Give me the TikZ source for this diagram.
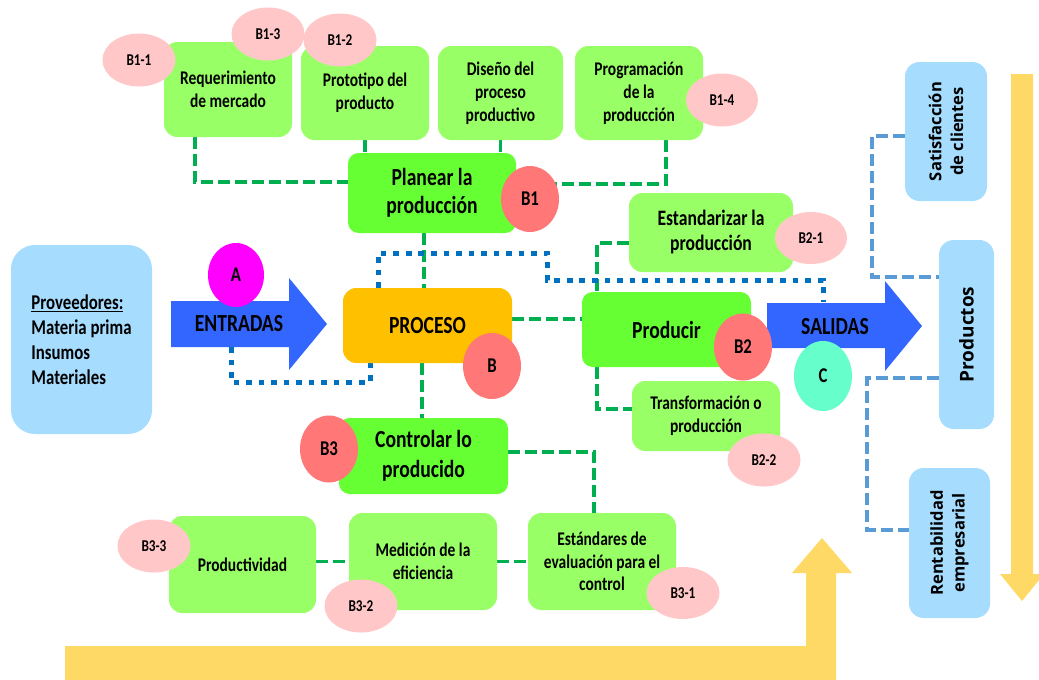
\documentclass[tikz,border=0pt]{standalone}
\usepackage{fontspec}
\usetikzlibrary{shapes.geometric,calc}
\newfontfamily\carl{Carlito}[FakeStretch=0.8]
\newfontfamily\opsans{Open Sans}
\newcommand\fs[2]{\fontsize{#1pt}{#2pt}\selectfont}

\definecolor{boxlight}{HTML}{99FF66}
\definecolor{boxbright}{HTML}{66FF33}
\definecolor{procorange}{HTML}{FFC000}
\definecolor{arrowblue}{HTML}{3366FF}
\definecolor{skyfill}{HTML}{A6DCFE}
\definecolor{pinkfill}{HTML}{FFC7C7}
\definecolor{salmonfill}{HTML}{FF7777}
\definecolor{magentafill}{HTML}{FF00FF}
\definecolor{mintfill}{HTML}{66FFCC}
\definecolor{yellowfill}{HTML}{FFD966}
\definecolor{greenline}{HTML}{00B050}
\definecolor{blueline}{HTML}{0070C0}
\definecolor{steelline}{HTML}{5B9BD5}

\pgfdeclarelayer{conn}
\pgfsetlayers{conn,main}

% box given by its corners: name, x1, y1, x2, y2, style, text
\newcommand\qbox[7]{\node[#6, minimum width={(#4-#2)*0.75pt}, minimum height={(#5-#3)*0.75pt}] (#1) at ({(#2+#4)/2},{(#3+#5)/2}) {#7};}
% ellipse given by centre and radii: name, cx, cy, rx, ry, style, text
\newcommand\qell[7]{\node[ellipse, #6, minimum width={2*#4*0.75pt}, minimum height={2*#5*0.75pt}] (#1) at (#2,#3) {#7};}

\tikzset{
  lgbox/.style={fill=boxlight, rounded corners=10pt},
  bgbox/.style={fill=boxbright, rounded corners=8pt},
  skybox/.style={fill=skyfill, rounded corners=11pt},
  toptxt/.style={font=\carl\bfseries\fs{14.5}{17.25}},
  bigtxt/.style={font=\carl\bfseries\fs{18.4}{21}},
  tag/.style={fill=pinkfill, font=\carl\bfseries\fs{12.4}{14}},
  bigtag/.style={font=\carl\bfseries\fs{15.75}{18}},
  gdash/.style={greenline, line width=2.6pt, dash pattern=on 9pt off 3.75pt},
  bdot/.style={blueline, line width=3.75pt, dash pattern=on 4.2pt off 5.2pt},
  sdash/.style={steelline, line width=2.6pt, dash pattern=on 9pt off 3.75pt},
}

\begin{document}
\begin{tikzpicture}[x=0.75pt, y=-0.75pt,
  every node/.style={inner sep=0pt, align=center, text=black}]
\useasboundingbox (0,0) rectangle (1039,679);
\clip (0,0) rectangle (1039,679);

% large yellow arrows
\fill[yellowfill] (1011,74) -- (1033,74) -- (1033,574) -- (1044,574) -- (1022,601) -- (1000,574) -- (1011,574) -- cycle;
\fill[yellowfill] (65,646) -- (806,646) -- (806,573) -- (792,573) -- (822,538) -- (852,573) -- (836,573) -- (836,690) -- (65,690) -- cycle;

% input and output arrows
\fill[arrowblue] (171,301) -- (289,301) -- (289,278) -- (327,324) -- (289,370) -- (289,347) -- (171,347) -- cycle;
\node[bigtxt] (entr) at (239,324) {ENTRADAS};
\coordinate (entrB) at (231,347);
\fill[arrowblue] (767,303) -- (885,303) -- (885,281) -- (922,326) -- (885,371) -- (885,348) -- (767,348) -- cycle;
\node[bigtxt] (sal) at (835,327) {SALIDAS};
\coordinate (salT) at (823,302);

% suppliers
\node[skybox, rounded corners=18pt, minimum width={141*0.75pt}, minimum height={189*0.75pt},
      align=left, font=\carl\bfseries\fs{15.75}{18.75}] (prov) at (81.5,339.5)
      {\underline{Proveedores:}\\Materia prima\hspace*{4.5pt}\\Insumos\\Materiales};

% planning row
\qbox{req}{164}{42}{292}{137}{lgbox, toptxt}{Requerimiento\\de mercado}
\qbox{proto}{301}{46}{429}{140}{lgbox, toptxt}{Prototipo del\\producto}
\qbox{dis}{438}{46}{563}{140}{lgbox, toptxt}{Diseño del\\proceso\\productivo}
\qbox{prog}{575}{46}{703}{140}{lgbox, toptxt}{Programación\\de la\\producción}
\qbox{plan}{348}{153}{516}{233}{bgbox, bigtxt}{Planear la\\producción}

% process core
\qbox{proc}{343}{288}{512}{363}{fill=procorange, rounded corners=10pt, bigtxt}{PROCESO}
\qbox{ctrl}{339}{418}{508}{494}{bgbox, font=\carl\bfseries\fs{18.4}{22.5}}{Controlar lo\\producido}
\qbox{estd}{629}{193}{793}{272}{lgbox, font=\carl\bfseries\fs{16.5}{18.75}}{Estandarizar la\\producción}
\qbox{prod}{582}{292}{751}{367}{bgbox, bigtxt}{Producir}
\qbox{trans}{632}{381}{780}{451}{lgbox, font=\carl\bfseries\fs{14.5}{17}}{Transformación o\\producción}

% control row
\qbox{prodv}{169}{516}{316}{613}{lgbox, font=\carl\bfseries\fs{14.5}{17}}{Productividad}
\qbox{med}{349}{513}{497}{610}{lgbox, font=\carl\bfseries\fs{14.5}{17}}{Medición de la\\eficiencia}
\qbox{est}{528}{513}{676}{610}{lgbox, font=\carl\bfseries\fs{14.5}{17}}{Estándares de\\evaluación para el\\control}

% results column (text reads upwards)
\node[skybox, rotate=90, minimum width={139*0.75pt}, minimum height={82*0.75pt},
      font=\opsans\bfseries\fs{12.4}{16.3}] (sat) at (946,131.5) {Satisfacción\\de clientes};
\node[skybox, rotate=90, minimum width={189*0.75pt}, minimum height={55*0.75pt},
      font=\opsans\bfseries\fs{14.25}{16}] (prods) at (966.5,334.5) {Productos};
\node[skybox, rotate=90, minimum width={150*0.75pt}, minimum height={81*0.75pt},
      font=\opsans\bfseries\fs{12.4}{16.3}] (rent) at (949.5,543) {Rentabilidad\\empresarial};

% labels
\qell{b11}{139}{60}{36.5}{26.5}{tag}{B1-1}
\qell{b13}{268}{34}{36.5}{26.5}{tag}{B1-3}
\qell{b12}{340}{40}{36.5}{26.5}{tag}{B1-2}
\qell{b14}{722}{100}{36}{26.5}{tag}{B1-4}
\qell{b1}{530}{199}{29}{33}{bigtag, fill=salmonfill}{B1}
\qell{b21}{811}{238}{36}{26}{tag}{B2-1}
\qell{b2}{743}{347}{29}{33.5}{bigtag, fill=salmonfill}{B2}
\qell{b22}{764}{460}{36.5}{26.5}{tag}{B2-2}
\qell{cc}{823}{376}{29}{35}{bigtag, fill=mintfill}{C}
\qell{aa}{236}{275}{28}{32}{bigtag, fill=magentafill}{A}
\qell{bb}{492}{366}{29}{33}{bigtag, fill=salmonfill}{B}
\qell{b3}{329}{449}{29}{33.5}{bigtag, fill=salmonfill}{B3}
\qell{b33}{154}{546}{36.5}{26.5}{tag}{B3-3}
\qell{b32}{361}{606}{36.5}{26.5}{tag}{B3-2}
\qell{b31}{683}{593}{36.5}{26}{tag}{B3-1}

% connectors, kept underneath the shapes
\begin{pgfonlayer}{conn}
  % green dashed links
  \coordinate (rq1) at ($(req.south)+(-33,0)$);
  \coordinate (pw0) at ($(plan.west)+(0,-11)$);
  \draw[gdash] (rq1) |- (pw0);
  \draw[gdash] (proto.south) -- (proto.south |- plan.north);
  \draw[gdash] (dis.south) -- (dis.south |- plan.north);
  \coordinate (pg1) at ($(prog.south)+(27,0)$);
  \coordinate (b1e) at ($(b1.east)+(-5,-15)$);
  \draw[gdash] (pg1) |- (b1e);
  \coordinate (pl1) at ($(plan.south)+(-8,0)$);
  \draw[gdash] (pl1) -- (pl1 |- proc.north);
  \coordinate (pc1) at ($(proc.south)+(-5.5,0)$);
  \draw[gdash] (pc1) -- (pc1 |- ctrl.north);
  \coordinate (pr1) at ($(proc.east)+(0,-6.5)$);
  \draw[gdash] (pr1) -- (pr1 -| prod.west);
  \coordinate (es1) at ($(estd.west)+(0,10.5)$);
  \coordinate (pn1) at ($(prod.north)+(-69.5,0)$);
  \draw[gdash] (es1) -| (pn1);
  \coordinate (ps1) at ($(prod.south)+(-69.5,0)$);
  \coordinate (tw1) at ($(trans.west)+(0,-7)$);
  \draw[gdash] (ps1) |- (tw1);
  \coordinate (ce1) at ($(ctrl.east)+(0,-4)$);
  \coordinate (et1) at ($(est.north)+(-8,0)$);
  \draw[gdash] (ce1) -| (et1);
  \draw[gdash] (prodv.east |- med.west) -- (med.west);
  \draw[gdash] (med.east) -- (est.west);

  % blue dotted flow lines
  \coordinate (pt1) at ($(proc.north)+(-49.5,0)$);
  \draw[bdot] (pt1) |- (547,253) |- (823,280) -- (salT);
  \coordinate (pb1) at ($(proc.south)+(-57.5,0)$);
  \draw[bdot] (entrB) |- (pb1 |- 0,382) -- (pb1);

  % steel-blue dashed links of the results
  \coordinate (sl1) at ($(sat.north)+(0,4.5)$);
  \coordinate (pl2) at ($(prods.north)+(0,-57.5)$);
  \draw[sdash] (sl1) -| (872,277) -- (pl2);
  \coordinate (pl3) at ($(prods.north)+(0,43.5)$);
  \coordinate (rl1) at ($(rent.north)+(0,-13)$);
  \draw[sdash] (pl3) -| (867,530) -- (rl1);
\end{pgfonlayer}
\end{tikzpicture}
\end{document}
